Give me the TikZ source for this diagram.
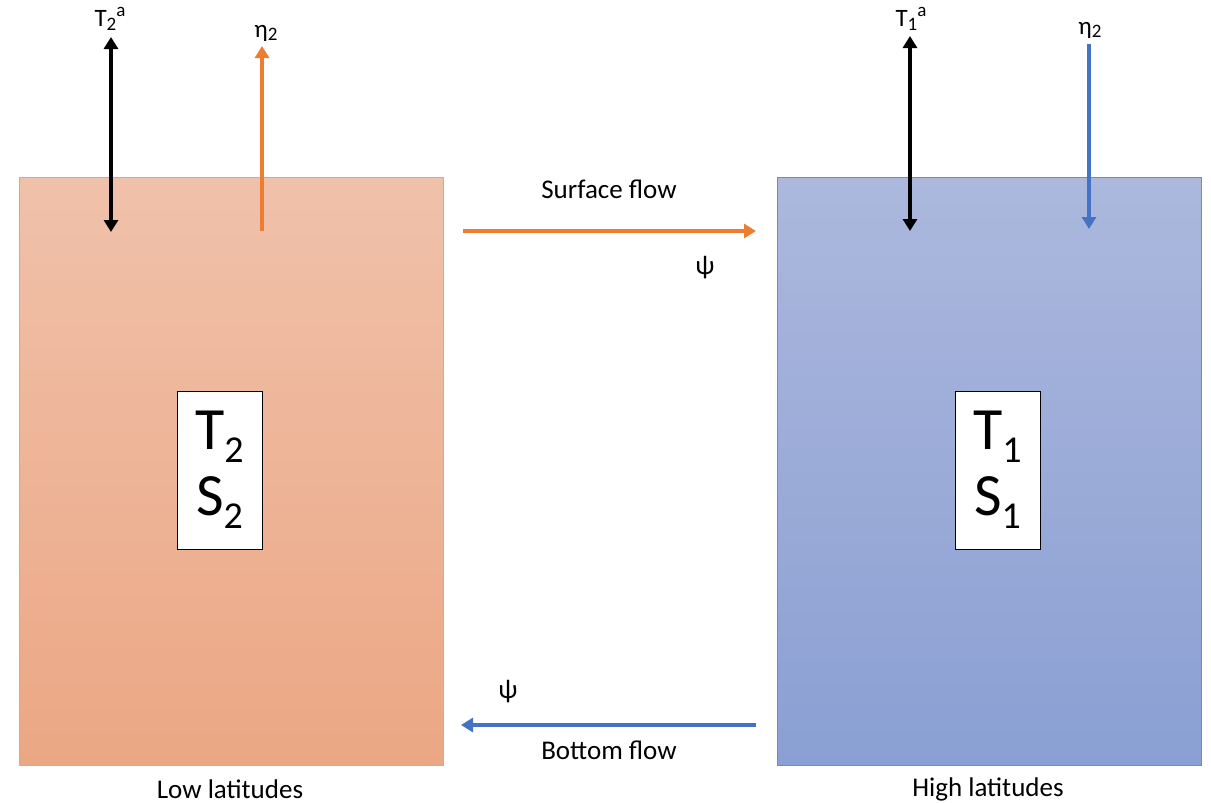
\documentclass[tikz,border=0pt]{standalone}
\usepackage{fontspec}
\setmainfont{Carlito}
\usetikzlibrary{arrows.meta}
\definecolor{oarr}{RGB}{237,125,49}
\definecolor{barr}{RGB}{68,114,196}
\definecolor{otop}{RGB}{240,193,170}
\definecolor{obot}{RGB}{235,167,132}
\definecolor{oedge}{RGB}{240,160,120}
\definecolor{btop}{RGB}{172,184,221}
\definecolor{bbot}{RGB}{138,159,211}
\definecolor{bedge}{RGB}{110,137,204}
\tikzset{
  arr/.style={line width=3.4pt,-{Triangle[width=14pt,length=12pt]}},
  darr/.style={line width=3.4pt,{Triangle[width=14pt,length=12pt]}-{Triangle[width=14pt,length=12pt]}},
  basin/.style={rectangle,minimum width=424pt,minimum height=588pt,inner sep=0pt,line width=1pt},
  inner/.style={rectangle,draw=black,fill=white,line width=0.8pt,minimum width=85pt,minimum height=158pt,inner sep=0pt,font=\fontsize{60}{66}\selectfont,align=center},
  lab/.style={font=\fontsize{27}{30}\selectfont,inner sep=0pt},
  slab/.style={font=\fontsize{25}{28}\selectfont,inner sep=0pt}
}
\newcommand{\sbs}[1]{\raisebox{-0.22em}{\fontsize{38}{40}\selectfont #1}}
\newcommand{\ssub}[1]{\raisebox{-0.15em}{\fontsize{19}{20}\selectfont #1}}
\newcommand{\ssup}[1]{\raisebox{0.4em}{\fontsize{19}{20}\selectfont #1}}
\begin{document}
\begin{tikzpicture}[x=1pt,y=-1pt]
\useasboundingbox (0,0) rectangle (1211,803);
% basins
\node[basin,draw=oedge,top color=otop,bottom color=obot] (low) at (231,471) {};
\node[basin,draw=bedge,top color=btop,bottom color=bbot] (high) at (989.5,471) {};
\node[inner] (ts2) at (219.5,470) {T\sbs{2}\\[0pt]S\sbs{2}};
\node[inner] (ts1) at (997.5,470) {T\sbs{1}\\[0pt]S\sbs{1}};
% labels
\node[slab] (t2a) at (110,19) {T\ssub{2}\ssup{a}};
\node[slab] (eta2l) at (266,33) {η\ssub{2}};
\node[slab] (t1a) at (911,19) {T\ssub{1}\ssup{a}};
\node[slab] (eta2r) at (1090,30) {η\ssub{2}};
\node[lab] (sf) at (609,189) {Surface flow};
\node[lab] (psi1) at (705,268) {ψ};
\node[lab] (psi2) at (508,692) {ψ};
\node[lab] (bf) at (609,750) {Bottom flow};
\node[lab] (lowl) at (230,789) {Low latitudes};
\node[lab] (highl) at (988,789) {High latitudes};
% coordinates
\coordinate (a1) at (111,37);
\coordinate (a2) at (111,232);
\coordinate (b1) at (262,231);
\coordinate (b2) at (262,46);
\coordinate (c1) at (910,36);
\coordinate (c2) at (910,231);
\coordinate (d1) at (1089,44);
\coordinate (d2) at (1089,229);
\coordinate (s1) at (463,231);
\coordinate (s2) at (756,231);
\coordinate (u1) at (756,725);
\coordinate (u2) at (461,725);
% arrows
\draw[darr,black] (a1) -- (a2);
\draw[arr,oarr] (b1) -- (b2);
\draw[darr,black] (c1) -- (c2);
\draw[arr,barr] (d1) -- (d2);
\draw[arr,oarr] (s1) -- (s2);
\draw[arr,barr] (u1) -- (u2);
\end{tikzpicture}
\end{document}
